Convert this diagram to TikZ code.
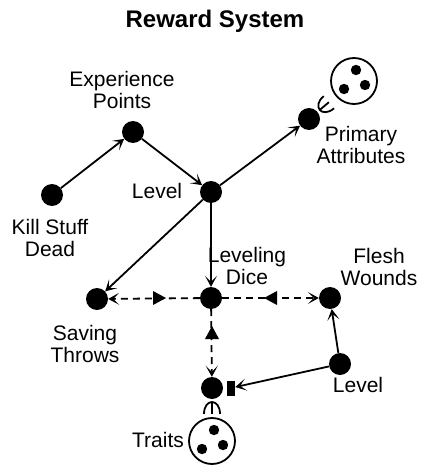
\documentclass[tikz,border=0pt]{standalone}
\usepackage{fontspec}
\setmainfont{Liberation Sans}
\usetikzlibrary{arrows.meta,calc}
\begin{document}
\begin{tikzpicture}[x=1pt,y=-1pt,
  dot/.style={circle,fill=black,minimum size=22pt,inner sep=0pt},
  pool/.style={circle,draw=black,line width=1.8pt,minimum size=46pt,inner sep=0pt},
  lbl/.style={font=\fontsize{21}{22}\selectfont,align=center,inner sep=0pt},
  chev/.tip={Stealth[length=11pt,width=12pt,inset=6pt]},
  flow/.style={line width=1.8pt,-chev},
  state/.style={line width=1.8pt,dash pattern=on 7pt off 5pt,-chev},
  tri/.style={fill=black},
  trigger/.style={fill=black,minimum width=8pt,minimum height=15pt,inner sep=0pt},
  arch/.style={line width=1.8pt}
]
\useasboundingbox (0,0) rectangle (429,473);
% title
\node[font=\fontsize{24}{27}\bfseries\selectfont] (title) at (215,21) {Reward System};
% nodes
\node[dot] (ksd) at (52,195) {};
\node[dot] (xp) at (133,132) {};
\node[dot] (lvl) at (211,192) {};
\node[dot] (pa) at (309,119) {};
\node[pool] (papool) at (354,81) {};
\node[dot] (st) at (97,299) {};
\node[dot] (ld) at (211,298) {};
\node[dot] (fw) at (330,298) {};
\node[dot] (lv2) at (340,364) {};
\node[dot] (tr) at (212,388) {};
\node[trigger] (trk) at (231,388) {};
\node[pool] (trpool) at (212,441) {};
% pool contents
\fill (papool.center) ++(2,-11) circle (5.2);
\fill (papool.center) ++(-10,8) circle (5.2);
\fill (papool.center) ++(11,4) circle (5.2);
\fill (trpool.center) ++(2,-11) circle (5.2);
\fill (trpool.center) ++(-10,8) circle (5.2);
\fill (trpool.center) ++(11,4) circle (5.2);
% labels
\node[lbl] (lksd) at (50,238) {Kill Stuff\\Dead};
\node[lbl] (lxp) at (122,90) {Experience\\Points};
\node[lbl] (llvl) at (157,191) {Level};
\node[lbl] (lpa) at (361,145) {Primary\\Attributes};
\node[lbl] (lst) at (85,344) {Saving\\Throws};
\node[lbl] (lld) at (247,266) {Leveling\\Dice};
\node[lbl] (lfw) at (379,267) {Flesh\\Wounds};
\node[lbl] (llv2) at (358,385) {Level};
\node[lbl] (ltr) at (158,440) {Traits};
% flows
\draw[flow] (ksd) -- (xp);
\draw[flow] (xp) -- (lvl);
\draw[flow] (lvl) -- (pa);
\draw[flow] (lvl) -- (st);
\draw[flow] (lvl) -- (ld);
\draw[flow] (lv2) -- (fw);
\draw[flow] (lv2) -- (trk);
% state connections
\draw[state] (ld) -- (st);
\draw[state] (ld) -- (fw);
\draw[state] (ld) -- (tr);
\fill[tri] (166,298) -- (153,291) -- (153,305) -- cycle;
\fill[tri] (264,298) -- (277,291) -- (277,305) -- cycle;
\fill[tri] (212,326) -- (205,339) -- (219,339) -- cycle;
% triggers / arches
\begin{scope}[shift={(212,414)}]
  \draw[arch] (-8,0) .. controls (-8,-16) and (8,-16) .. (8,0);
  \draw[arch] (0,-12) -- (0,0);
\end{scope}
\begin{scope}[shift={(328.9,102.2)},rotate=130.2]
  \draw[arch] (-8,0) .. controls (-8,-16) and (8,-16) .. (8,0);
  \draw[arch] (0,-12) -- (0,0);
\end{scope}
\end{tikzpicture}
\end{document}
